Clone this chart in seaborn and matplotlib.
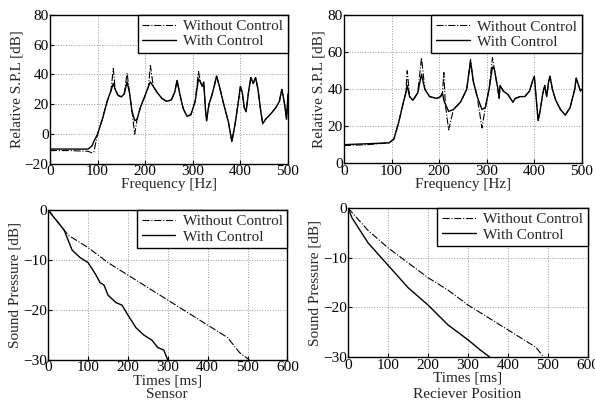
import matplotlib
matplotlib.use("Agg")
import matplotlib.pyplot as plt
import seaborn as sns
import pandas as pd

sns.set_style("ticks")
plt.rcParams["font.family"] = ["Liberation Serif", "DejaVu Serif"]
plt.rcParams["mathtext.fontset"] = "stix"

# %% Data - frequency responses (left: sensor, right: receiver)
freq_sensor = [0, 40, 80, 88, 92, 100, 110, 120, 128, 133, 137, 143, 150, 156, 162, 167,
               172, 178, 183, 190, 200, 207, 211, 217, 225, 235, 245, 255, 262, 267, 272,
               280, 288, 296, 305, 312, 316, 320, 323, 327, 329, 334, 340, 345, 350, 356,
               365, 375, 382, 388, 395, 400, 404, 408, 412, 417, 422, 427, 432, 437, 443,
               447, 453, 465, 475, 482, 487, 492, 497, 500]
spl_sensor_on = [-10, -10, -10, -8, -5, 0, 10, 22, 29, 34, 30, 26, 25, 27, 35, 28,
                 16, 9, 10, 18, 26, 32, 35, 32, 28, 24, 22, 23, 28, 36, 28,
                 17, 12, 13, 22, 37, 35, 32, 35, 15, 9, 20, 26, 32, 39, 32,
                 20, 8, -5, 5, 20, 32, 28, 18, 15, 28, 38, 34, 38, 30, 15,
                 7, 10, 14, 18, 22, 30, 22, 10, 27]
spl_sensor_off = [-11, -11, -11.5, -12.5, -12, 0, 10, 22, 29, 44, 30, 26, 25, 27, 41, 28,
                  16, 0, 10, 18, 26, 32, 46, 32, 28, 24, 22, 23, 28, 36, 28,
                  17, 12, 13, 22, 42, 35, 32, 35, 15, 9, 20, 26, 32, 39, 32,
                  20, 8, -5, 5, 20, 32, 28, 18, 15, 28, 38, 34, 38, 30, 15,
                  7, 10, 14, 18, 22, 30, 22, 10, 27]

freq_recv = [0, 50, 95, 105, 115, 125, 130, 133, 138, 145, 155, 163, 170, 180, 195, 203,
             207, 210, 213, 220, 230, 245, 258, 266, 272, 280, 290, 297, 305, 312, 316,
             320, 323, 326, 328, 335, 345, 350, 355, 360, 370, 380, 390, 397, 400, 403,
             408, 412, 418, 422, 426, 430, 433, 438, 445, 455, 465, 475, 485, 488, 493,
             497, 500]
spl_recv_on = [10, 10.5, 11, 13, 22, 33, 38, 42, 36, 34, 38, 48, 40, 36, 35, 36,
               38, 34, 32, 28, 29, 33, 40, 55, 44, 36, 29, 30, 40, 52, 51,
               45, 41, 35, 42, 39, 37, 35, 33, 35, 36, 36, 39, 45, 47, 38,
               23, 28, 38, 42, 36, 44, 47, 40, 34, 29, 26, 30, 40, 46, 42,
               39, 40]
spl_recv_off = [9.5, 10, 11, 13, 22, 33, 38, 50, 36, 34, 38, 57, 40, 36, 35, 36,
                38, 49, 32, 18, 29, 33, 40, 56, 44, 36, 19, 30, 40, 57, 51,
                45, 41, 35, 42, 39, 37, 35, 33, 35, 36, 36, 39, 45, 47, 38,
                23, 28, 38, 42, 36, 44, 47, 40, 34, 29, 26, 30, 40, 46, 42,
                39, 40]

# %% Data - decay curves
t_sensor_off = [0, 50, 100, 150, 200, 250, 300, 350, 400, 450, 480, 505]
p_sensor_off = [0, -5, -7.5, -10.5, -13, -15.5, -18, -20.5, -23, -25.5, -28.5, -30]
t_sensor_on = [0, 20, 40, 50, 60, 80, 100, 120, 130, 140, 150, 170, 185, 200, 220,
               240, 260, 275, 290, 300]
p_sensor_on = [0, -2, -4, -6, -8, -9.5, -10.5, -13, -14.5, -15, -17, -18.5, -19, -21,
               -23.5, -25, -26, -27.5, -28, -30]

t_recv_off = [0, 50, 100, 150, 200, 250, 300, 350, 400, 450, 470, 490]
p_recv_off = [0, -4.5, -8, -11, -14, -16.5, -19.5, -22, -24.5, -27, -28, -30]
t_recv_on = [0, 10, 50, 100, 150, 200, 250, 300, 330, 355]
p_recv_on = [0, -2, -7, -11.5, -16, -19.5, -23.5, -26.5, -28.5, -30]

LABELS = ["Without Control", "With Control"]

fig = plt.figure(figsize=(5.95, 4.12), dpi=100)
positions = [
    [0.084, 0.602, 0.400, 0.362],
    [0.578, 0.604, 0.400, 0.359],
    [0.081, 0.126, 0.402, 0.364],
    [0.585, 0.133, 0.403, 0.362],
]
axes = [fig.add_axes(p) for p in positions]

panels = [
    (freq_sensor, spl_sensor_off, freq_sensor, spl_sensor_on),
    (freq_recv, spl_recv_off, freq_recv, spl_recv_on),
    (t_sensor_off, p_sensor_off, t_sensor_on, p_sensor_on),
    (t_recv_off, p_recv_off, t_recv_on, p_recv_on),
]

for ax, (x0, y0, x1, y1) in zip(axes, panels):
    sns.lineplot(x=x0, y=y0, ax=ax, color="black", lw=0.8, linestyle="-.",
                 label=LABELS[0])
    sns.lineplot(x=x1, y=y1, ax=ax, color="black", lw=1.0, linestyle="-",
                 label=LABELS[1])
    ax.grid(True, color="#999999", linestyle=":", linewidth=0.7)
    for s in ax.spines.values():
        s.set_color("black")
        s.set_linewidth(1.0)
    ax.tick_params(direction="in", length=3, labelsize=11, colors="black", pad=1)
    leg = ax.legend(loc="upper right", fontsize=11, frameon=True, fancybox=False,
                    edgecolor="black", borderaxespad=0, handlelength=2.2,
                    borderpad=0.3, labelspacing=0.1, handletextpad=0.5)
    leg.get_frame().set_linewidth(1.0)
    leg.get_frame().set_alpha(1)

# top row
axes[0].set_xlim(0, 500)
axes[0].set_ylim(-20, 80)
axes[0].set_yticks([-20, 0, 20, 40, 60, 80])
axes[1].set_xlim(0, 500)
axes[1].set_ylim(0, 80)
axes[1].set_yticks([0, 20, 40, 60, 80])
for ax in axes[:2]:
    ax.set_xticks([0, 100, 200, 300, 400, 500])
    ax.set_xlabel("Frequency [Hz]", fontsize=11, labelpad=0)
    ax.set_ylabel("Relative S.P.L [dB]", fontsize=11, labelpad=1)

# bottom row
for ax in axes[2:]:
    ax.set_xlim(0, 600)
    ax.set_ylim(-30, 0)
    ax.set_xticks([0, 100, 200, 300, 400, 500, 600])
    ax.set_yticks([-30, -20, -10, 0])
    ax.set_xlabel("Times [ms]", fontsize=11, labelpad=0)
    ax.set_ylabel("Sound Pressure [dB]", fontsize=11, labelpad=1)

fig.text(0.281, 0.042, "Sensor", ha="center", va="center", fontsize=11)
fig.text(0.786, 0.042, "Reciever Position", ha="center", va="center", fontsize=11)

fig.savefig("out.png", dpi=100)
